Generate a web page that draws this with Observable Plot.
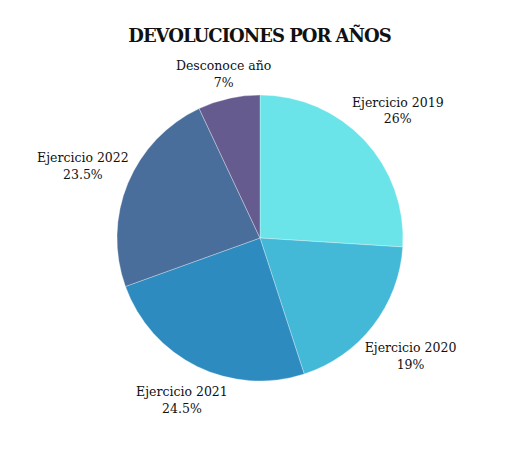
<!DOCTYPE html>
<html>
<head>
<meta charset="utf-8">
<script src="https://cdn.jsdelivr.net/npm/d3@7"></script>
<script src="https://cdn.jsdelivr.net/npm/@observablehq/plot@0.6"></script>
<style>
  html, body { margin: 0; padding: 0; background: #ffffff; }
  #wrap { width: 505px; height: 461px; position: relative; overflow: hidden; }
  #title { position: absolute; left: 7px; top: 24px; width: 505px; text-align: center; font-family: "DejaVu Serif", serif; font-weight: bold; font-size: 18px; line-height: 24px; color: #111; letter-spacing: -1px; z-index: 2; }
  #chart { position: absolute; left: 0; top: 0; }
</style>
</head>
<body>
<div id="wrap">
  <div id="chart"></div>
  <div id="title">DEVOLUCIONES POR AÑOS</div>
</div>
<script>
const categories = ["Ejercicio 2019", "Ejercicio 2020", "Ejercicio 2021", "Ejercicio 2022", "Desconoce año"];
const values = [26, 19, 24.5, 23.5, 7];
const percentLabels = ["26%", "19%", "24.5%", "23.5%", "7%"];
const colors = ["#6AE4E9", "#43B8D7", "#2E8BBF", "#4A6E9B", "#665B8F"];

const W = 505, H = 461, R = 143, CX = 260, CY = 238;
const FS = 12.5;

const pie = d3.pie().sort(null).value(d => d.value);
const rows = categories.map((c, i) => ({category: c, value: values[i], pct: percentLabels[i]}));
const arcs = pie(rows);
const data = arcs.map(a => {
  const mid = (a.startAngle + a.endAngle) / 2;
  const hw = Math.max(a.data.category.length, a.data.pct.length) * FS * 0.52 / 2;
  const hh = FS * 1.3;
  const dist = R + 1 + Math.abs(Math.sin(mid)) * hw + Math.abs(Math.cos(mid)) * hh;
  return {
    ...a.data,
    startAngle: a.startAngle,
    endAngle: a.endAngle,
    lx: dist / R * Math.sin(mid),
    ly: dist / R * Math.cos(mid),
    label: a.data.category + "\n" + a.data.pct
  };
});

const chart = Plot.plot({
  width: W,
  height: H,
  margin: 0,
  x: {domain: [-CX / R, (W - CX) / R], range: [0, W], axis: null},
  y: {domain: [-(H - CY) / R, CY / R], range: [H, 0], axis: null},
  color: {domain: categories, range: colors},
  marks: [
    Plot.dot(data, {
      x: () => 0, y: () => 0, fill: "category",
      render(index, scales, values, dimensions, context) {
        const cx = scales.x(0), cy = scales.y(0);
        const rad = scales.x(1) - scales.x(0);
        const arc = d3.arc().innerRadius(0).outerRadius(rad);
        const g = d3.create("svg:g").attr("transform", `translate(${cx},${cy})`);
        g.selectAll("path").data(index).join("path")
          .attr("d", i => arc({startAngle: data[i].startAngle, endAngle: data[i].endAngle}))
          .attr("fill", i => values.fill[i])
          .attr("stroke", "#ffffff")
          .attr("stroke-opacity", 0.5)
          .attr("stroke-width", 0.6);
        return g.node();
      }
    }),
    Plot.text(data, {
      x: "lx", y: "ly", text: "label",
      textAnchor: "middle", lineAnchor: "middle", lineHeight: 1.35,
      fontSize: FS, fontFamily: "DejaVu Serif", fill: "#111", fontWeight: 500
    })
  ]
});
document.getElementById("chart").appendChild(chart);
</script>
</body>
</html>
